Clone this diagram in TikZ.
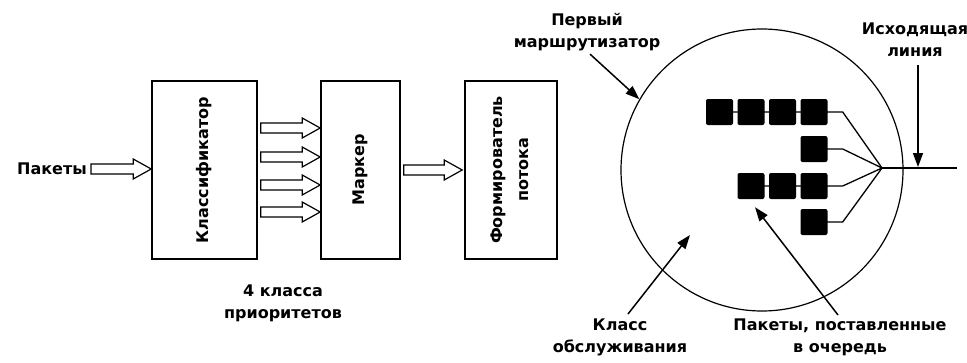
\documentclass[tikz,border=0pt]{standalone}
\usepackage{fontspec}
\setsansfont{DejaVu Sans}
\usetikzlibrary{arrows.meta,calc,backgrounds}

% hollow block arrow from point #1 towards the x of point #2
\newcommand\fatarrow[2]{%
  \draw[fat] let \p1=#1, \p2=#2 in
    (\x1,\y1+5pt) -- (\x2-18pt,\y1+5pt) -- (\x2-18pt,\y1+10pt) -- (\x2,\y1)
    -- (\x2-18pt,\y1-10pt) -- (\x2-18pt,\y1-5pt) -- (\x1,\y1-5pt) -- cycle;}

\begin{document}
\begin{tikzpicture}[
    x=1pt, y=-1pt,
    lbl/.style={font=\sffamily\bfseries\fontsize{16}{22}\selectfont, align=center, inner sep=0pt},
    blk/.style={draw, line width=1.6pt, minimum height=178pt, inner sep=0pt, font=\sffamily\bfseries\fontsize{16}{22}\selectfont},
    fat/.style={draw, line width=1.2pt, fill=white},
    pkt/.style={fill=black, rounded corners=2pt, minimum width=27pt, minimum height=26pt, inner sep=0pt},
    link/.style={line width=1.3pt},
    ptr/.style={line width=1.5pt, -{Triangle[length=14pt,width=10pt]}}
]
  \useasboundingbox (0,0) rectangle (967,362);

  % Left chain: classifier, marker, shaper
  \node[lbl, anchor=east] (in) at (87,169) {Пакеты};
  \node[blk, minimum width=105pt] (cls) at (204.5,170) {\rotatebox{90}{Классификатор}};
  \node[blk, minimum width=79pt] (mrk) at (360.5,170) {\rotatebox{90}{Маркер}};
  \node[blk, minimum width=92pt] (shp) at (511,170)
    {\rotatebox{90}{\begin{tabular}{@{}c@{}}Формирователь\\[4pt]потока\end{tabular}}};
  \node[lbl, anchor=north] (prio) at (283,285) {4 класса\\приоритетов};

  \fatarrow{($(in.east)+(4,0)$)}{(cls.west)}
  \foreach \yy in {128,157,185,212} {
    \fatarrow{($(cls.east |- 0,\yy)+(3,0)$)}{(mrk.west |- 0,\yy)}
  }
  \fatarrow{($(mrk.east)+(3,0)$)}{($(shp.west)+(-2,0)$)}

  % Router with its queues
  \node[circle, draw, line width=1.2pt, minimum size=282pt, inner sep=0pt] (rt) at (762,170) {};
  \coordinate (hub) at (882,168);
  \coordinate (outend) at (957,168);
  \coordinate (tap) at (918,168);
  \foreach \r/\yy/\n in {1/112/4, 2/149/1, 3/186/3, 4/222/1} {
    \foreach \k in {1,...,\n}
      \node[pkt] (q\r-\k) at (845.5-31.5*\k,\yy) {};
    \begin{pgfonlayer}{background}
      \draw[link] (q\r-\n.center) -- (q\r-1.east) -- ++(15,0) -- (hub);
    \end{pgfonlayer}
  }
  \draw[line width=2.6pt] (hub) -- (outend);

  % Labels round the router
  \node[lbl, anchor=north] (lrt) at (587,13) {Первый\\маршрутизатор};
  \node[lbl, anchor=north] (lout) at (915,23) {Исходящая\\линия};
  \node[lbl, anchor=north] (lcls) at (620,319) {Класс\\обслуживания};
  \node[lbl, anchor=north] (lq) at (840,319) {Пакеты, поставленные\\в очередь};
  \coordinate (clspt) at (690,235);
  \coordinate (qpt) at ($(q3-3.south)+(4,8)$);

  \draw[ptr] ($(lrt.south)+(3,3)$) -- (rt.150);
  \draw[ptr, shorten >=1pt] ($(lout.south -| tap)+(0,8)$) -- (tap);
  \draw[ptr] ($(lcls.north)+(8,-5)$) -- (clspt);
  \draw[ptr] ($(lq.north)+(-2,-4)$) -- (qpt);
\end{tikzpicture}
\end{document}
